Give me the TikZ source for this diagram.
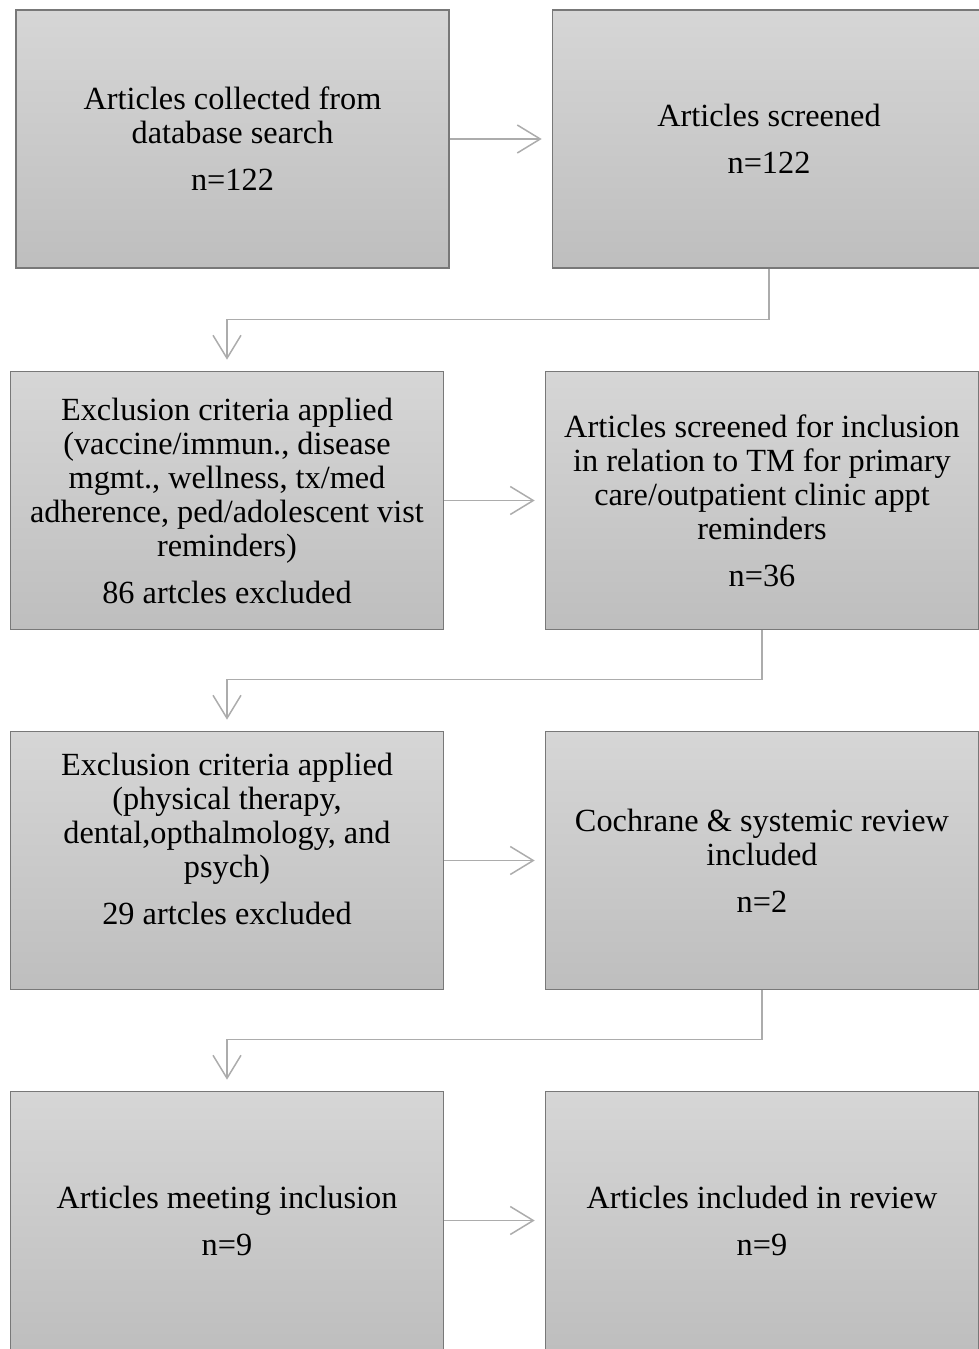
\documentclass[tikz,border=0pt]{standalone}
\usepackage{fontspec}
\setmainfont{Liberation Serif}
\usetikzlibrary{arrows.meta}
\definecolor{boxtop}{RGB}{214,214,214}
\definecolor{boxbot}{RGB}{190,190,190}
\definecolor{boxline}{RGB}{120,120,120}
\definecolor{linkgray}{RGB}{172,172,172}
\begin{document}
\begin{tikzpicture}[x=1pt,y=-1pt,
  box/.style={draw=boxline,line width=1.6pt,top color=boxtop,bottom color=boxbot,
    minimum width=433pt,minimum height=258pt,inner sep=0pt},
  txt/.style={align=center,font=\fontsize{32.3}{34}\selectfont,inner sep=0pt},
  link/.style={draw=linkgray,line width=1.5pt,-{Straight Barb[length=23pt,width=28pt,line width=1.5pt]}}]
  \useasboundingbox (0,0) rectangle (978,1349);
  % boxes
  \node[box] (b1) at (232.5,139) {};
  \node[box] (b2) at (769,139) {};
  \node[box] (b3) at (227,500.5) {};
  \node[box] (b4) at (762,500.5) {};
  \node[box] (b5) at (227,860.5) {};
  \node[box] (b6) at (762,860.5) {};
  \node[box] (b7) at (227,1220.5) {};
  \node[box] (b8) at (762,1220.5) {};
  % texts
  \node[txt] (t1) at (b1.center) {Articles collected from\\database search\\[13pt]n=122};
  \node[txt] (t2) at (b2.center) {Articles screened\\[13pt]n=122};
  \node[txt] (t3) at (b3.center) {Exclusion criteria applied\\(vaccine/immun., disease\\mgmt., wellness, tx/med\\adherence, ped/adolescent vist\\reminders)\\[13pt]86 artcles excluded};
  \node[txt] (t4) at (b4.center) {Articles screened for inclusion\\in relation to TM for primary\\care/outpatient clinic appt\\reminders\\[13pt]n=36};
  \node[txt] (t5) at ([yshift=22pt]b5.center) {Exclusion criteria applied\\(physical therapy,\\dental,opthalmology, and\\psych)\\[13pt]29 artcles excluded};
  \node[txt] (t6) at (b6.center) {Cochrane \& systemic review\\included\\[13pt]n=2};
  \node[txt] (t7) at (b7.center) {Articles meeting inclusion\\[13pt]n=9};
  \node[txt] (t8) at (b8.center) {Articles included in review\\[13pt]n=9};
  % arrows
  \draw[link] (b1.east) -- ([xshift=-10pt]b2.west);
  \draw[link] (b3.east) -- ([xshift=-10pt]b4.west);
  \draw[link] (b5.east) -- ([xshift=-10pt]b6.west);
  \draw[link] (b7.east) -- ([xshift=-10pt]b8.west);
  \draw[link] (b2.south) |- ([yshift=51pt]b3.north) -- ([yshift=11pt]b3.north);
  \draw[link] (b4.south) |- ([yshift=51pt]b5.north) -- ([yshift=11pt]b5.north);
  \draw[link] (b6.south) |- ([yshift=51pt]b7.north) -- ([yshift=11pt]b7.north);
\end{tikzpicture}
\end{document}
